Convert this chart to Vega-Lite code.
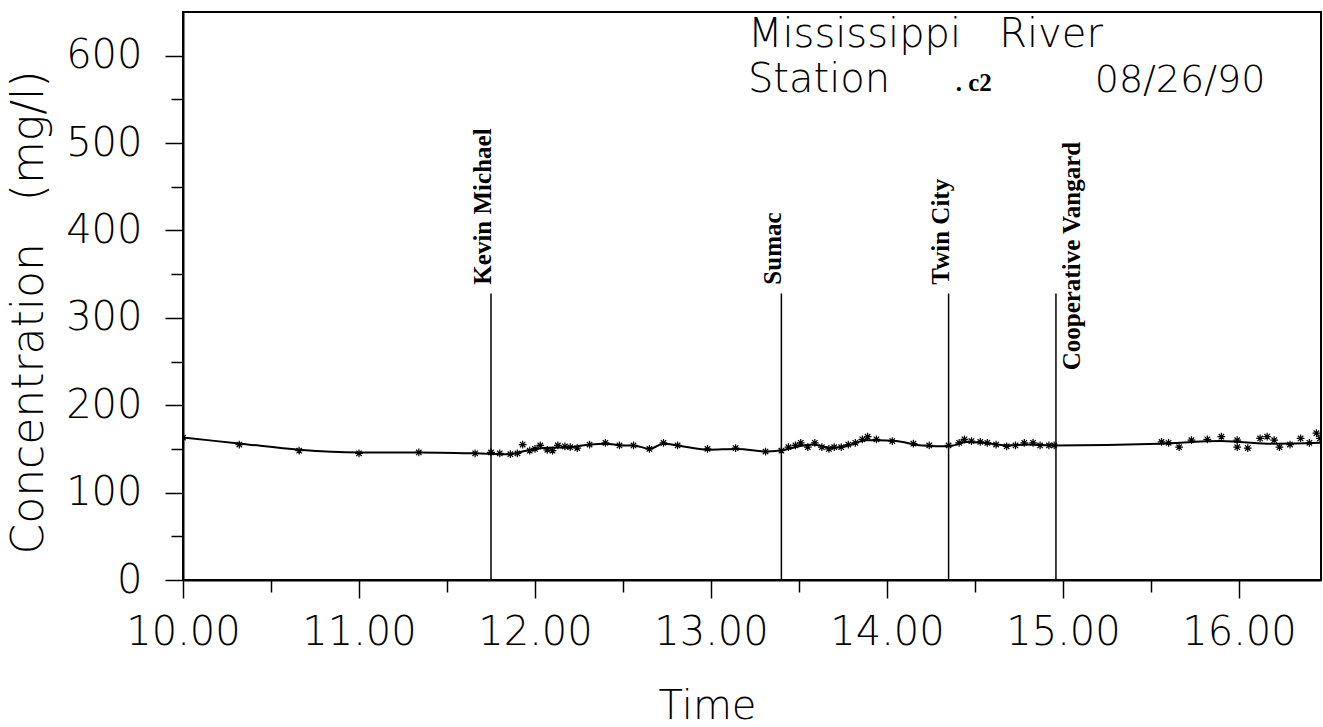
{
  "$schema": "https://vega.github.io/schema/vega-lite/v6.json",
  "width": 1138,
  "height": 568,
  "autosize": {"type": "none"},
  "padding": {"left": 183, "top": 12, "right": 2, "bottom": 147},
  "background": "white",
  "config": {
    "view": {"stroke": "black", "strokeWidth": 2},
    "axis": {
      "labelFont": "DejaVu Sans", "labelFontWeight": 200, "labelFontSize": 40, "labelColor": "black",
      "titleFont": "DejaVu Sans", "titleFontWeight": 200, "titleFontSize": 40, "titleColor": "black",
      "domainColor": "black", "domainWidth": 2, "tickColor": "black", "tickWidth": 1.5, "grid": false,
      "labelOverlap": false, "labelFlush": false
    }
  },
  "datasets": {
    "fit": [
      {"t": 10.00, "c": 163}, {"t": 10.33, "c": 156}, {"t": 10.66, "c": 149}, {"t": 11.00, "c": 146},
      {"t": 11.33, "c": 146}, {"t": 11.66, "c": 145}, {"t": 11.85, "c": 144}, {"t": 11.95, "c": 148},
      {"t": 12.05, "c": 151}, {"t": 12.20, "c": 152}, {"t": 12.31, "c": 155}, {"t": 12.40, "c": 156},
      {"t": 12.50, "c": 154}, {"t": 12.56, "c": 154}, {"t": 12.65, "c": 150}, {"t": 12.73, "c": 156},
      {"t": 12.81, "c": 154}, {"t": 12.98, "c": 149}, {"t": 13.15, "c": 150}, {"t": 13.32, "c": 147},
      {"t": 13.42, "c": 149}, {"t": 13.50, "c": 153}, {"t": 13.58, "c": 155}, {"t": 13.68, "c": 151},
      {"t": 13.78, "c": 154}, {"t": 13.88, "c": 160}, {"t": 13.95, "c": 160}, {"t": 14.05, "c": 159},
      {"t": 14.20, "c": 154}, {"t": 14.35, "c": 153}, {"t": 14.45, "c": 158}, {"t": 14.55, "c": 157},
      {"t": 14.68, "c": 154}, {"t": 14.80, "c": 155}, {"t": 14.95, "c": 154}, {"t": 15.55, "c": 156},
      {"t": 15.90, "c": 159}, {"t": 16.00, "c": 158}, {"t": 16.20, "c": 156}, {"t": 16.46, "c": 157}
    ],
    "obs": [
      {"t": 10.00, "c": 163}, {"t": 10.32, "c": 155}, {"t": 10.66, "c": 148}, {"t": 11.00, "c": 145},
      {"t": 11.34, "c": 146}, {"t": 11.66, "c": 145}, {"t": 11.75, "c": 146}, {"t": 11.80, "c": 145},
      {"t": 11.86, "c": 144}, {"t": 11.90, "c": 145}, {"t": 11.93, "c": 155}, {"t": 11.97, "c": 148},
      {"t": 12.00, "c": 150}, {"t": 12.03, "c": 154}, {"t": 12.07, "c": 149}, {"t": 12.10, "c": 148},
      {"t": 12.13, "c": 154}, {"t": 12.17, "c": 153}, {"t": 12.20, "c": 152}, {"t": 12.24, "c": 151},
      {"t": 12.31, "c": 155}, {"t": 12.40, "c": 157}, {"t": 12.48, "c": 154}, {"t": 12.56, "c": 154},
      {"t": 12.65, "c": 150}, {"t": 12.73, "c": 157}, {"t": 12.81, "c": 154}, {"t": 12.98, "c": 150},
      {"t": 13.14, "c": 151}, {"t": 13.31, "c": 147}, {"t": 13.40, "c": 148}, {"t": 13.44, "c": 152},
      {"t": 13.48, "c": 154}, {"t": 13.51, "c": 157}, {"t": 13.55, "c": 152}, {"t": 13.59, "c": 157},
      {"t": 13.63, "c": 152}, {"t": 13.67, "c": 150}, {"t": 13.70, "c": 152}, {"t": 13.74, "c": 152},
      {"t": 13.78, "c": 155}, {"t": 13.82, "c": 157}, {"t": 13.86, "c": 161}, {"t": 13.89, "c": 164},
      {"t": 13.94, "c": 161}, {"t": 14.03, "c": 159}, {"t": 14.15, "c": 156}, {"t": 14.24, "c": 154},
      {"t": 14.35, "c": 154}, {"t": 14.41, "c": 157}, {"t": 14.44, "c": 161}, {"t": 14.48, "c": 159},
      {"t": 14.53, "c": 158}, {"t": 14.57, "c": 157}, {"t": 14.62, "c": 155}, {"t": 14.68, "c": 153},
      {"t": 14.73, "c": 154}, {"t": 14.78, "c": 157}, {"t": 14.83, "c": 157}, {"t": 14.87, "c": 154},
      {"t": 14.92, "c": 154}, {"t": 14.95, "c": 154}, {"t": 15.56, "c": 158}, {"t": 15.60, "c": 157},
      {"t": 15.66, "c": 152}, {"t": 15.73, "c": 160}, {"t": 15.82, "c": 161}, {"t": 15.90, "c": 164},
      {"t": 15.99, "c": 160}, {"t": 15.99, "c": 152}, {"t": 16.05, "c": 151}, {"t": 16.12, "c": 162},
      {"t": 16.16, "c": 164}, {"t": 16.20, "c": 160}, {"t": 16.23, "c": 152}, {"t": 16.29, "c": 155},
      {"t": 16.35, "c": 162}, {"t": 16.40, "c": 157}, {"t": 16.44, "c": 168}, {"t": 16.46, "c": 162}
    ],
    "markers": [
      {"name": "Kevin Michael", "t": 11.75},
      {"name": "Sumac", "t": 13.40},
      {"name": "Twin City", "t": 14.35},
      {"name": "Cooperative Vangard", "t": 14.96}
    ],
    "one": [{"k": 1}]
  },
  "layer": [
    {
      "data": {"name": "fit"},
      "mark": {"type": "line", "color": "black", "strokeWidth": 2, "interpolate": "monotone", "clip": true},
      "encoding": {
        "x": {
          "field": "t", "type": "quantitative", "title": "Time",
          "scale": {"domain": [10, 16.466], "nice": false, "zero": false},
          "axis": {
            "values": [10, 10.5, 11, 11.5, 12, 12.5, 13, 13.5, 14, 14.5, 15, 15.5, 16],
            "labelExpr": "datum.value % 1 === 0 ? format(datum.value, '.2f') : ''",
            "tickSize": {"condition": {"test": "datum.value % 1 !== 0", "value": 12}, "value": 18},
            "labelPadding": 14,
            "titleX": 524,
            "titleAlign": "center",
            "titlePadding": 34
          }
        },
        "y": {
          "field": "c", "type": "quantitative", "title": "Concentration\u00a0\u00a0\u00a0(mg/l)",
          "scale": {"domain": [0, 650], "nice": false},
          "axis": {
            "values": [0, 50, 100, 150, 200, 250, 300, 350, 400, 450, 500, 550, 600],
            "labelExpr": "datum.value % 100 === 0 ? format(datum.value, 'd') : ''",
            "tickSize": {"condition": {"test": "datum.value % 100 !== 0", "value": 12}, "value": 18},
            "labelPadding": 23,
            "titlePadding": 14,
            "titleY": 300,
            "titleAlign": "center",
            "titleFontSize": 44
          }
        }
      }
    },
    {
      "data": {"name": "obs"},
      "mark": {"type": "point", "shape": "M-1,0H1M0,-1V1M-0.7,-0.7L0.7,0.7M-0.7,0.7L0.7,-0.7", "filled": false, "color": "black", "strokeWidth": 1.2, "size": 60, "opacity": 1, "clip": true},
      "encoding": {
        "x": {"field": "t", "type": "quantitative", "title": "Time"},
        "y": {"field": "c", "type": "quantitative", "title": "Concentration\u00a0\u00a0\u00a0(mg/l)"}
      }
    },
    {
      "data": {"name": "markers"},
      "mark": {"type": "rule", "color": "black", "strokeWidth": 1.5},
      "encoding": {
        "x": {"field": "t", "type": "quantitative", "title": "Time"},
        "y": {"datum": 0},
        "y2": {"datum": 328}
      }
    },
    {
      "data": {"name": "markers"},
      "transform": [{"filter": "datum.name !== 'Cooperative Vangard'"}],
      "mark": {"type": "text", "angle": 270, "align": "left", "baseline": "alphabetic", "font": "Liberation Serif", "fontWeight": "bold", "fontSize": 25, "color": "black"},
      "encoding": {
        "x": {"field": "t", "type": "quantitative", "title": "Time"},
        "y": {"datum": 338},
        "text": {"field": "name"}
      }
    },
    {
      "data": {"name": "markers"},
      "transform": [{"filter": "datum.name === 'Cooperative Vangard'"}],
      "mark": {"type": "text", "angle": 270, "align": "left", "baseline": "alphabetic", "dy": 24, "font": "Liberation Serif", "fontWeight": "bold", "fontSize": 25, "color": "black"},
      "encoding": {
        "x": {"field": "t", "type": "quantitative", "title": "Time"},
        "y": {"datum": 240},
        "text": {"field": "name"}
      }
    },
    {
      "data": {"name": "one"},
      "mark": {"type": "text", "text": "Mississippi\u00a0\u00a0\u00a0River", "align": "left", "baseline": "alphabetic", "font": "DejaVu Sans", "fontWeight": 200, "fontSize": 40, "color": "black"},
      "encoding": {"x": {"datum": 13.21}, "y": {"datum": 610}}
    },
    {
      "data": {"name": "one"},
      "mark": {"type": "text", "text": "Station", "align": "left", "baseline": "alphabetic", "font": "DejaVu Sans", "fontWeight": 200, "fontSize": 40, "color": "black"},
      "encoding": {"x": {"datum": 13.21}, "y": {"datum": 558}}
    },
    {
      "data": {"name": "one"},
      "mark": {"type": "text", "text": ". c2", "align": "left", "baseline": "alphabetic", "font": "Liberation Serif", "fontWeight": "bold", "fontSize": 25, "color": "black"},
      "encoding": {"x": {"datum": 14.39}, "y": {"datum": 560}}
    },
    {
      "data": {"name": "one"},
      "mark": {"type": "text", "text": "08/26/90", "align": "right", "baseline": "alphabetic", "font": "DejaVu Sans", "fontWeight": 200, "fontSize": 38, "color": "black"},
      "encoding": {"x": {"datum": 16.15}, "y": {"datum": 558}}
    }
  ]
}
